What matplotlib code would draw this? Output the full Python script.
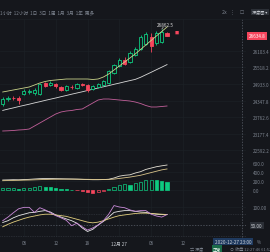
import matplotlib
matplotlib.use("Agg")
import matplotlib.pyplot as plt
import numpy as np

# hourly candles, 2020-12-26 02:00 .. 2020-12-27 09:00
opens = [24224.6, 24383.2, 24436.1, 24436.1, 24577.1, 24629.9, 24612.3, 24577.1,
         24964.8, 24894.3, 24929.6, 24823.8, 24718.1, 24823.8, 24788.6, 24929.6,
         24894.3, 24753.3, 24823.8, 24894.3, 24964.8, 25317.3, 25564.1, 25775.6,
         25705.1, 25951.8, 26163.3, 26339.6, 26586.3, 26374.8, 26410.1, 26727.3]
highs = [24471.3, 24506.6, 24506.6, 24506.6, 24753.3, 24753.3, 24788.6, 24964.8,
         25000.1, 25035.3, 24964.8, 24859.1, 24894.3, 24894.3, 24964.8, 24964.8,
         24929.6, 24894.3, 24964.8, 25070.6, 25423.3, 25634.6, 25846.1, 25881.3,
         26092.8, 26233.8, 26656.8, 26762.6, 26727.3, 26797.8, 26862.5, 26762.6]
lows = [24154.1, 24330.3, 24365.6, 24224.6, 24541.8, 24577.1, 24541.8, 24541.8,
        24823.8, 24859.1, 24788.6, 24682.8, 24682.8, 24753.3, 24753.3, 24859.1,
        24647.6, 24718.1, 24788.6, 24859.1, 24929.6, 25282.1, 25528.8, 25599.3,
        25669.8, 25916.6, 26128.1, 26304.3, 26057.6, 26304.3, 26374.8, 26621.4]
closes = [24400.8, 24436.1, 24425.5, 24348.0, 24682.8, 24682.8, 24700.5, 24929.6,
          24859.1, 24964.8, 24841.4, 24718.1, 24841.4, 24813.3, 24912.0, 24904.9,
          24700.5, 24859.1, 24929.6, 25035.3, 25388.0, 25599.3, 25775.6, 25634.6,
          26022.3, 26163.3, 26586.3, 26692.1, 26269.1, 26727.3, 26762.6, 26634.8]

line_upper = [24647.6, 24682.8, 24718.1, 24753.3, 24788.6, 24823.8, 24894.3, 24964.8,
              25017.7, 25053.0, 25070.6, 25088.3, 25105.8, 25105.8, 25105.8, 25105.8,
              25105.8, 25088.3, 25105.8, 25176.3, 25282.1, 25423.3, 25564.1, 25705.1,
              25846.1, 25987.1, 26145.7, 26304.3, 26463.0, 26621.6, 26780.2, 26938.8]
line_mid = [23998.7, 24044.6, 24086.9, 24132.9, 24175.2, 24217.5, 24263.3, 24305.6,
            24351.4, 24393.8, 24436.1, 24481.9, 24524.2, 24570.0, 24612.3, 24654.6,
            24700.5, 24742.8, 24788.6, 24830.9, 24873.2, 24919.0, 24961.3, 25007.1,
            25049.4, 25091.7, 25165.7, 25253.9, 25342.0, 25433.6, 25521.7, 25613.4]
line_low = [23272.8, 23279.9, 23290.5, 23308.1, 23318.7, 23343.3, 23449.1, 23554.8,
            23660.6, 23766.3, 23872.1, 23942.6, 23977.8, 23995.4, 24030.7, 24048.3,
            24154.1, 24259.8, 24365.6, 24400.8, 24400.8, 24383.2, 24365.6, 24348.0,
            24330.3, 24295.1, 24242.2, 24171.7, 24118.8, 24118.8, 24136.4, 24154.1]

macd_hist = [37, 37, 37, 15, 37, 37, 52, 74, 67, 52, 30, 15, 7, 4, -7, -37,
             -59, -74, -59, -37, 7, 52, 111, 126, 111, 140, 178, 222, 222, 207, 200, 178]
dif = [215, 218, 222, 220, 225, 230, 238, 245, 248, 248, 245, 243, 240, 238, 235, 230,
       225, 222, 222, 225, 232, 260, 300, 320, 330, 370, 400, 450, 480, 510, 530, 548]
dea = [200, 203, 206, 209, 212, 215, 219, 223, 227, 230, 232, 233, 234, 234, 233, 232,
       230, 228, 226, 226, 227, 235, 250, 265, 280, 300, 320, 350, 380, 410, 440, 460]

kdj_k = [57, 62, 70, 76, 80, 84, 85, 88, 90, 86, 78, 72, 67, 62, 55, 42,
         32, 38, 50, 60, 72, 85, 88, 90, 90, 88, 86, 85, 82, 80, 79, 79]
kdj_d = [45, 52, 58, 63, 68, 72, 75, 78, 80, 80, 78, 76, 74, 70, 66, 62,
         58, 56, 58, 62, 67, 72, 76, 78, 80, 82, 83, 83, 82, 81, 80, 79]
kdj_j = [62, 72, 84, 95, 99, 99, 85, 98, 92, 84, 76, 70, 63, 48, 55, 45,
         36, 42, 50, 62, 80, 104, 100, 98, 92, 88, 90, 90, 80, 75, 72, 79]

price_ticks = [26103.4, 25518.2, 24933.0, 24347.8, 23762.6, 23177.4, 22592.2]
macd_ticks = [0, 200, 400, 600]
x_ticks = [4, 10, 16, 22, 28, 34]
x_labels = ["06", "12", "18", "12月 27", "06", "12"]
last_price = "26634.8"
high_label = "26862.5"

BG = "#15171c"
GRID = "#1c2026"
TXT = "#7d848f"
GREEN = "#0ecb81"
RED = "#f6465d"
FONT = ["Noto Sans CJK SC", "DejaVu Sans"]
plt.rcParams["font.family"] = FONT

W, H = 270, 253
fig = plt.figure(figsize=(2.7, 2.53), dpi=100, facecolor=BG)


def axes_px(top, bottom):
    return fig.add_axes([0, 1 - bottom / H, 246 / W, (bottom - top) / H], facecolor=BG)


ax = axes_px(20, 155)
ax2 = axes_px(155, 195)
ax3 = axes_px(195, 238)

x = np.arange(len(opens))
xlim = (-0.51, 45.9)

for a in (ax, ax2, ax3):
    a.set_xlim(*xlim)
    for s in a.spines.values():
        s.set_visible(False)
    a.tick_params(length=0, labelsize=3.3, colors=TXT, pad=5)
    a.yaxis.tick_right()
    a.set_xticks(x_ticks)
    a.set_xticklabels([])
    a.grid(True, color=GRID, linewidth=0.5)
    a.set_axisbelow(True)

# main candle panel
ax.set_ylim(22462.0, 27220.8)
ax.set_yticks(price_ticks)
ax.set_yticklabels([f"{v:.1f}" for v in price_ticks])

o = np.array(opens)
c = np.array(closes)
up = c >= o
cols = np.where(up, GREEN, RED)
ax.vlines(x, lows, highs, colors=cols, linewidth=0.6, zorder=2)
body = np.maximum(np.abs(c - o), 12)
ax.bar(x, body, bottom=np.minimum(o, c), width=0.6,
       color=[BG if u else RED for u in up], edgecolor=cols, linewidth=0.6, zorder=3)

ax.plot(x, line_upper, color="#c9d38a", linewidth=0.6, zorder=4)
ax.plot(x, line_mid, color="#d8d8d8", linewidth=0.6, zorder=1)
ax.plot(x, line_low, color="#c2609a", linewidth=0.6, zorder=1)

ih = int(np.argmax(highs))
ax.annotate(high_label, xy=(ih, highs[ih]), xytext=(ih + 2.2, highs[ih] + 60),
            fontsize=3.3, color="#e0e0e0", ha="right", va="bottom",
            arrowprops=dict(arrowstyle="-", color="#e0e0e0", linewidth=0.4))
ax.text(32.4, 26762.6, "■", fontsize=3, color=RED, va="center", ha="left")

# MACD panel
ax2.set_ylim(-95.5, 792.5)
ax2.set_yticks(macd_ticks)
ax2.set_yticklabels([f"{v:.1f}" for v in macd_ticks])
hist = np.array(macd_hist)
prev = np.concatenate([[hist[0]], hist[:-1]])
hcol = np.where(hist >= 0, GREEN, RED)
filled = hist < prev
ax2.bar(x, hist, width=0.6, color=[cc if f else BG for cc, f in zip(hcol, filled)],
        edgecolor=hcol, linewidth=0.5, zorder=3)
ax2.plot(x, dif, color="#e6e2d6", linewidth=0.6, zorder=4)
ax2.plot(x, dea, color="#d9c48a", linewidth=0.6, zorder=4)

# KDJ panel
ax3.set_ylim(16.7, 136.1)
ax3.set_yticks([100])
ax3.set_yticklabels(["100.00"])
ax3.axhline(80, color="#3b4048", linewidth=0.5, linestyle=(0, (1, 1.5)))
ax3.axhline(20, color="#3b4048", linewidth=0.5, linestyle=(0, (1, 1.5)))
ax3.axhline(50, color="#5a606a", linewidth=0.5, linestyle=(0, (2, 2)))
ax3.plot(x, kdj_k, color="#e8e8e8", linewidth=0.6)
ax3.plot(x, kdj_d, color="#e2cf7e", linewidth=0.6)
ax3.plot(x, kdj_j, color="#c98ad8", linewidth=0.6)
ax3.set_xticklabels(x_labels)
ax3.tick_params(axis="x", pad=2.5)
for lab in ax3.get_xticklabels():
    if "月" in lab.get_text():
        lab.set_color("#c8ccd2")

# crosshair vertical
fig.add_artist(plt.Line2D([241.5 / W] * 2, [1 - 238 / H, 1 - 20 / H],
                          color="#5a606a", linewidth=0.5, linestyle=(0, (2, 2))))

# price tags
fig.text(257 / W, 1 - 36.7 / H, last_price, fontsize=3.3, color="white",
         ha="center", va="center",
         bbox=dict(boxstyle="square,pad=0.3", facecolor=RED, edgecolor="none"))
fig.text(257 / W, 1 - 226.5 / H, "50.00", fontsize=3.3, color="#d0d4da",
         ha="center", va="center",
         bbox=dict(boxstyle="square,pad=0.3", facecolor="#2b2f36", edgecolor="none"))
fig.text(233 / W, 1 - 242.5 / H, "2020-12-27 23:00", fontsize=3.3, color="#d0d4da",
         ha="center", va="center",
         bbox=dict(boxstyle="square,pad=0.3", facecolor="#1f3a5f", edgecolor="none"))
fig.text(259 / W, 1 - 242.5 / H, "%", fontsize=3.3, color=TXT, ha="center", va="center")

# toolbar
fig.text(0, 1 - 13 / H, "1小时  12小时  1日  3日  1周  1月  3月  1年  更多",
         fontsize=3.3, color=TXT, va="center", ha="left")
fig.text(222 / W, 1 - 13 / H, "2x", fontsize=3.3, color=TXT, va="center", ha="left",
         family=["DejaVu Sans"])
fig.text(230 / W, 1 - 13 / H, "⋮", fontsize=3.3, color=TXT, va="center", ha="left",
         family=["DejaVu Sans"])
fig.text(240 / W, 1 - 13 / H, "☐", fontsize=3.3, color=TXT, va="center", ha="left",
         family=["DejaVu Sans"])
fig.text(260 / W, 1 - 13 / H, "深度图 ▾", fontsize=3, color="#c8ccd2",
         ha="center", va="center", family=FONT,
         bbox=dict(boxstyle="square,pad=0.25", facecolor="#2b2f36", edgecolor="none"))
fig.add_artist(plt.Line2D([0, 1], [1 - 20 / H] * 2, color=GRID, linewidth=0.5))

# bottom status row
fig.text(190 / W, 1 - 249.5 / H, "⇌ 深度", fontsize=3, color=TXT, ha="left", va="center")
fig.text(213 / W, 1 - 249.5 / H, "正常", fontsize=3, color="white", ha="left", va="center",
         bbox=dict(boxstyle="square,pad=0.2", facecolor="#1b6b4a", edgecolor="none"))
fig.text(230 / W, 1 - 249.5 / H, "⊙ 收盘 12:27:46 61:52", fontsize=3, color=TXT,
         ha="left", va="center")

fig.savefig("out.png", dpi=100, facecolor=BG)
